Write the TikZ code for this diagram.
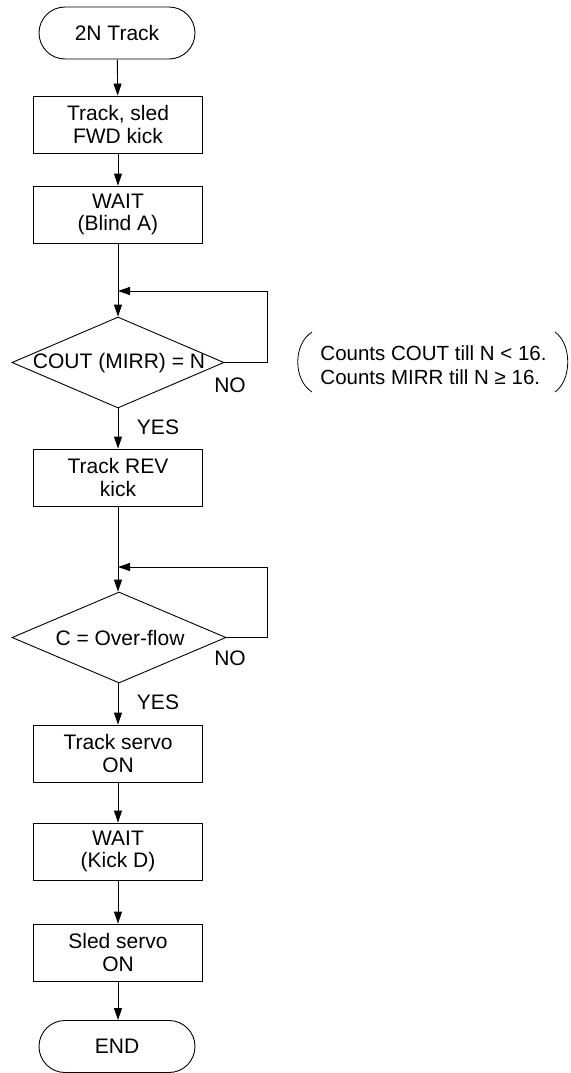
\documentclass[tikz,border=0pt]{standalone}
\usepackage{fontspec}
\setmainfont{Liberation Sans}
\usetikzlibrary{arrows.meta,shapes.geometric}
\begin{document}
\begin{tikzpicture}[x=1pt,y=-1pt,
  line width=0.9pt,
  every node/.style={font=\fontsize{21}{22.5}\selectfont},
  proc/.style={draw, rectangle, minimum width=169pt, minimum height=57pt, inner sep=0pt, align=center},
  term/.style={draw, rectangle, rounded corners=26pt, minimum width=156pt, minimum height=52pt, inner sep=0pt},
  dec/.style={draw, diamond, minimum width=212pt, minimum height=91pt, inner sep=0pt},
  lbl/.style={inner sep=0pt},
  flow/.style={-{Triangle[length=12pt,width=8pt]}},
]
\useasboundingbox (0,0) rectangle (570,1073);

\node[term] (start) at (117,33) {2N Track};
\node[proc] (b1) at (118,124.5) {Track, sled\\FWD kick};
\node[proc] (b2) at (118,214.5) {WAIT\\(Blind A)};
\node[dec] (d1) at (118,362.5) {};
\node[lbl] (t1) at (119,363) {COUT (MIRR) = N};
\node[lbl] (no1) at (230,385) {NO};
\node[lbl] (yes1) at (158,427) {YES};
\node[proc] (b3) at (118,477.5) {Track REV\\kick};
\node[dec, minimum width=214pt] (d2) at (119,637.5) {};
\node[lbl] (t2) at (120,638) {C = Over-flow};
\node[lbl] (no2) at (230,658) {NO};
\node[lbl] (yes2) at (158,702) {YES};
\node[proc] (b4) at (118,753.5) {Track servo\\ON};
\node[proc] (b5) at (118,851.5) {WAIT\\(Kick D)};
\node[proc] (b6) at (118,952.5) {Sled servo\\ON};
\node[term] (end) at (117,1046.5) {END};

\node[lbl, anchor=west, align=left, font=\fontsize{20.5}{24}\selectfont] (note) at (320,365) {Counts COUT till N < 16.\\Counts MIRR till N ≥ 16.};
\draw[line width=0.8pt] (312,332) .. controls (293,344) and (293,380) .. (312,392);
\draw[line width=0.8pt] (555,332) .. controls (572,344) and (572,380) .. (555,392);

\coordinate (j1) at (118,291);
\coordinate (r1) at (267,291);
\coordinate (j2) at (118,567);
\coordinate (r2) at (267,567);

\draw[flow] (start) -- (b1);
\draw[flow] (b1) -- (b2);
\draw[flow] (b2) -- (d1);
\draw[flow] (d1.east) -| (r1) -- (j1);
\draw[flow] (d1) -- (b3);
\draw[flow] (b3) -- (d2.north -| b3);
\draw[flow] (d2.east) -| (r2) -- (j2);
\draw[flow] (d2.south -| b4) -- (b4);
\draw[flow] (b4) -- (b5);
\draw[flow] (b5) -- (b6);
\draw[flow] (b6) -- (end.north -| b6);
\end{tikzpicture}
\end{document}
